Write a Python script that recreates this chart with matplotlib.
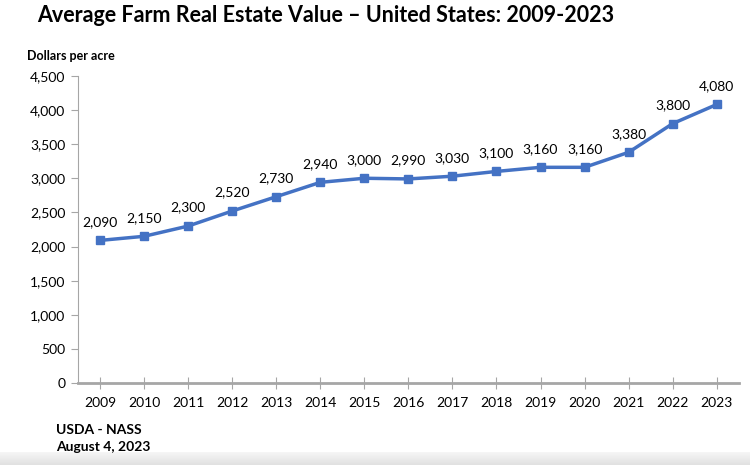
import matplotlib
matplotlib.use("Agg")
import matplotlib.pyplot as plt
import numpy as np

# Datos
years = ["2009", "2010", "2011", "2012", "2013", "2014", "2015", "2016",
         "2017", "2018", "2019", "2020", "2021", "2022", "2023"]
values = [2090, 2150, 2300, 2520, 2730, 2940, 3000, 2990,
          3030, 3100, 3160, 3160, 3380, 3800, 4080]
yticks = [0, 500, 1000, 1500, 2000, 2500, 3000, 3500, 4000, 4500]

plt.rcParams["font.family"] = ["Lato", "DejaVu Sans"]

fig = plt.figure(figsize=(7.5, 4.65), dpi=100)
ax = fig.add_axes([0.104, 0.176, 0.881, 0.661])

x = np.arange(len(years))
ax.plot(x, values, color="#4472C4", lw=2.5, marker="s", ms=6,
        markerfacecolor="#4472C4", markeredgecolor="#4472C4")
for xi, v in zip(x, values):
    ax.annotate(f"{v:,}", (xi, v), xytext=(0, 9), textcoords="offset points",
                ha="center", va="bottom", fontsize=10, color="black")

ax.set_xlim(-0.5, len(years) - 0.5)
ax.set_ylim(0, 4500)
ax.set_yticks(yticks)
ax.set_yticklabels([f"{t:,}" for t in yticks], fontsize=10)
ax.set_xticks(x)
ax.set_xticklabels(years, fontsize=10)
ax.tick_params(axis="y", direction="out", length=5, color="#A6A6A6", pad=4)
ax.tick_params(axis="x", direction="inout", length=8, color="#A6A6A6", pad=6)

for s in ["top", "right"]:
    ax.spines[s].set_visible(False)
ax.spines["left"].set_color("#A6A6A6")
ax.spines["bottom"].set_color("#A6A6A6")
ax.spines["bottom"].set_linewidth(2)

fig.text(0.049, 0.99, "Average Farm Real Estate Value \u2013 United States: 2009-2023",
         fontsize=15.5, fontweight="bold", va="top", ha="left")
fig.text(0.036, 0.88, "Dollars per acre", fontsize=9, fontweight="bold",
         va="center", ha="left")
fig.text(0.075, 0.075, "USDA - NASS", fontsize=10, fontweight="bold",
         va="center", ha="left")
fig.text(0.075, 0.039, "August 4, 2023", fontsize=10, fontweight="bold",
         va="center", ha="left")

# franja gris inferior
band = fig.add_axes([0, 0, 1, 0.028])
grad = np.linspace(0.97, 0.88, 20).reshape(-1, 1)
band.imshow(grad, cmap="gray", vmin=0, vmax=1, aspect="auto", extent=[0, 1, 0, 1])
band.axis("off")

fig.savefig("out.png", dpi=100)
